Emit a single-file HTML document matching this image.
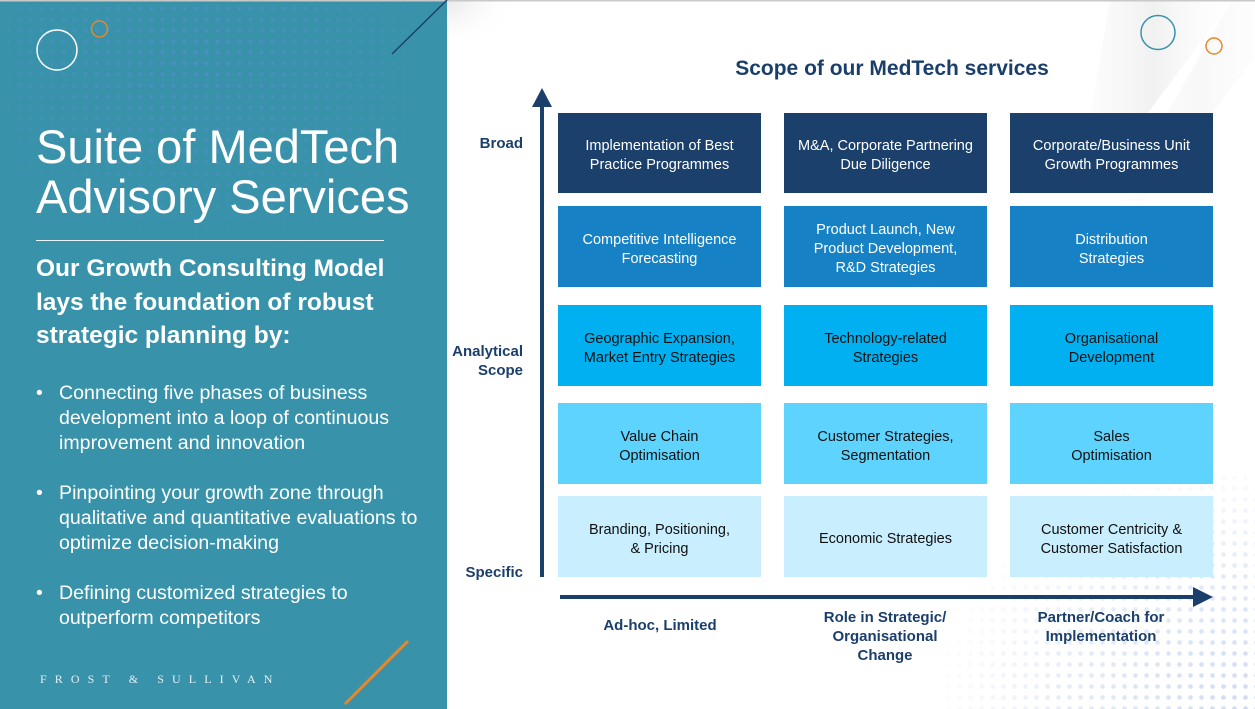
<!DOCTYPE html>
<html><head><meta charset="utf-8">
<style>
html,body{margin:0;padding:0;}
body{width:1255px;height:709px;position:relative;overflow:hidden;background:#fff;font-family:"Liberation Sans",Arial,sans-serif;}
.abs{position:absolute;}
#left{left:0;top:0;width:447px;height:709px;background:#3893aa;}
.ldots{left:0;top:0;width:447px;height:360px;
 background-image:radial-gradient(circle,rgba(85,140,205,0.8) 1.8px,transparent 2.3px);
 background-size:11px 11px;background-position:3px 3px;
 -webkit-mask-image:radial-gradient(ellipse 280px 210px at 200px 60px,#000 0%,rgba(0,0,0,0.55) 55%,transparent 100%);
 mask-image:radial-gradient(ellipse 280px 210px at 200px 60px,#000 0%,rgba(0,0,0,0.55) 55%,transparent 100%);}
.rdots{left:930px;top:470px;width:325px;height:239px;
 background-image:radial-gradient(circle,rgba(200,215,240,0.9) 2px,transparent 2.6px);
 background-size:11px 11px;background-position:2px 2px;
 -webkit-mask-image:radial-gradient(ellipse 330px 260px at 325px 239px,#000 0%,rgba(0,0,0,0.55) 55%,transparent 100%);
 mask-image:radial-gradient(ellipse 330px 260px at 325px 239px,#000 0%,rgba(0,0,0,0.55) 55%,transparent 100%);}
.t1{left:36px;top:122px;color:#fff;font-size:47px;line-height:50px;white-space:nowrap;}
.t2{left:36px;top:252px;color:#fff;font-size:24.5px;line-height:33.5px;font-weight:bold;white-space:nowrap;}
.bl{left:59px;color:#fff;font-size:19.6px;line-height:25px;white-space:nowrap;}
.bd{left:36px;color:#fff;font-size:19.5px;line-height:25px;}
.fs{left:40px;top:671px;color:#e8eef2;font-family:"Liberation Serif",serif;font-size:12px;line-height:16px;letter-spacing:8.1px;white-space:nowrap;}
.box{position:absolute;width:203px;box-sizing:border-box;padding-top:6px;display:flex;align-items:center;justify-content:center;text-align:center;font-size:14.5px;line-height:19px;}
.r1{top:113px;height:80px;background:#1a406b;color:#fff;}
.r2{top:206px;height:81px;background:#1682c5;color:#fff;}
.r3{top:305px;height:81px;background:#00b0f0;color:#111;}
.r4{top:403px;height:81px;background:#5dd3fe;color:#111;}
.r5{top:496px;height:81px;background:#c9eefd;color:#111;}
.c1{left:558px;}.c2{left:784px;}.c3{left:1010px;}
.ax{color:#1b3f6b;font-weight:bold;font-size:15px;line-height:19px;white-space:nowrap;}
.title{left:692px;width:400px;top:57px;text-align:center;color:#1b3f6b;font-weight:bold;font-size:21px;line-height:24px;}
</style></head>
<body>
<div id="left" class="abs"></div>
<div class="abs ldots"></div>

<svg class="abs" style="left:0;top:0" width="1255" height="709" viewBox="0 0 1255 709">
 <defs>
  <linearGradient id="sw" x1="0" y1="0" x2="1" y2="0">
   <stop offset="0" stop-color="#e6e6e6" stop-opacity="0"/>
   <stop offset="0.5" stop-color="#e0e0e0" stop-opacity="0.45"/>
   <stop offset="1" stop-color="#f2f2f2" stop-opacity="0"/>
  </linearGradient>
  <radialGradient id="tl" cx="0" cy="0" r="1">
   <stop offset="0" stop-color="#e8e8e8"/>
   <stop offset="1" stop-color="#ffffff" stop-opacity="0"/>
  </radialGradient>
 </defs>
 <polygon points="1110,0 1232,0 1120,150 1075,205" fill="url(#sw)"/>
 <polygon points="1232,0 1300,0 1140,205 1100,230" fill="url(#sw)" opacity="0.5"/>
 <rect x="447" y="0" width="70" height="50" fill="url(#tl)"/>
 <rect x="0" y="0" width="1255" height="1.5" fill="#c9c9c9"/>
 <!-- left decorations -->
 <circle cx="57" cy="50" r="20" fill="none" stroke="#fff" stroke-width="1.5"/>
 <circle cx="99.5" cy="29" r="8" fill="none" stroke="#e8872a" stroke-width="1.5"/>
 <line x1="392" y1="54" x2="447" y2="0" stroke="#1f3f66" stroke-width="1.5"/>
 <line x1="345" y1="704" x2="408" y2="641" stroke="#e8872a" stroke-width="3"/>
 <line x1="36" y1="240.5" x2="384" y2="240.5" stroke="#fff" stroke-width="1" opacity="0.9"/>
 <!-- right decorations -->
 <circle cx="1158" cy="32.5" r="17" fill="none" stroke="#3893aa" stroke-width="1.5"/>
 <circle cx="1214" cy="46" r="8" fill="none" stroke="#e8872a" stroke-width="1.5"/>
</svg>

<div class="abs rdots"></div>

<svg class="abs" style="left:0;top:0" width="1255" height="709" viewBox="0 0 1255 709">
 <rect x="540" y="104" width="4" height="473" fill="#1b3f6b"/>
 <polygon points="532,107 552,107 542,88" fill="#1b3f6b"/>
 <rect x="560" y="595" width="636" height="4" fill="#1b3f6b"/>
 <polygon points="1193,587 1193,607 1213,597" fill="#1b3f6b"/>
</svg>

<div class="abs t1">Suite of MedTech<br>Advisory Services</div>
<div class="abs t2">Our Growth Consulting Model<br>lays the foundation of robust<br>strategic planning by:</div>

<div class="abs bd" style="top:381px">•</div>
<div class="abs bl" style="top:381px">Connecting five phases of business<br>development into a loop of continuous<br>improvement and innovation</div>
<div class="abs bd" style="top:481px">•</div>
<div class="abs bl" style="top:481px">Pinpointing your growth zone through<br>qualitative and quantitative evaluations to<br>optimize decision-making</div>
<div class="abs bd" style="top:581px">•</div>
<div class="abs bl" style="top:581px">Defining customized strategies to<br>outperform competitors</div>

<div class="abs fs">FROST &amp; SULLIVAN</div>

<div class="abs title">Scope of our MedTech services</div>

<div class="abs ax" style="right:732px;top:133.5px;text-align:right">Broad</div>
<div class="abs ax" style="right:732px;top:341.5px;text-align:right">Analytical<br>Scope</div>
<div class="abs ax" style="right:732px;top:562.5px;text-align:right">Specific</div>

<div class="box r1 c1">Implementation of Best<br>Practice Programmes</div>
<div class="box r1 c2">M&amp;A, Corporate Partnering<br>Due Diligence</div>
<div class="box r1 c3">Corporate/Business Unit<br>Growth Programmes</div>

<div class="box r2 c1">Competitive Intelligence<br>Forecasting</div>
<div class="box r2 c2">Product Launch, New<br>Product Development,<br>R&amp;D Strategies</div>
<div class="box r2 c3">Distribution<br>Strategies</div>

<div class="box r3 c1">Geographic Expansion,<br>Market Entry Strategies</div>
<div class="box r3 c2">Technology-related<br>Strategies</div>
<div class="box r3 c3">Organisational<br>Development</div>

<div class="box r4 c1">Value Chain<br>Optimisation</div>
<div class="box r4 c2">Customer Strategies,<br>Segmentation</div>
<div class="box r4 c3">Sales<br>Optimisation</div>

<div class="box r5 c1">Branding, Positioning,<br>&amp; Pricing</div>
<div class="box r5 c2">Economic Strategies</div>
<div class="box r5 c3">Customer Centricity &amp;<br>Customer Satisfaction</div>

<div class="abs ax" style="left:560px;width:200px;top:615.5px;text-align:center">Ad-hoc, Limited</div>
<div class="abs ax" style="left:785px;width:200px;top:607.5px;text-align:center">Role in Strategic/<br>Organisational<br>Change</div>
<div class="abs ax" style="left:1001px;width:200px;top:607.5px;text-align:center">Partner/Coach for<br>Implementation</div>
</body></html>
